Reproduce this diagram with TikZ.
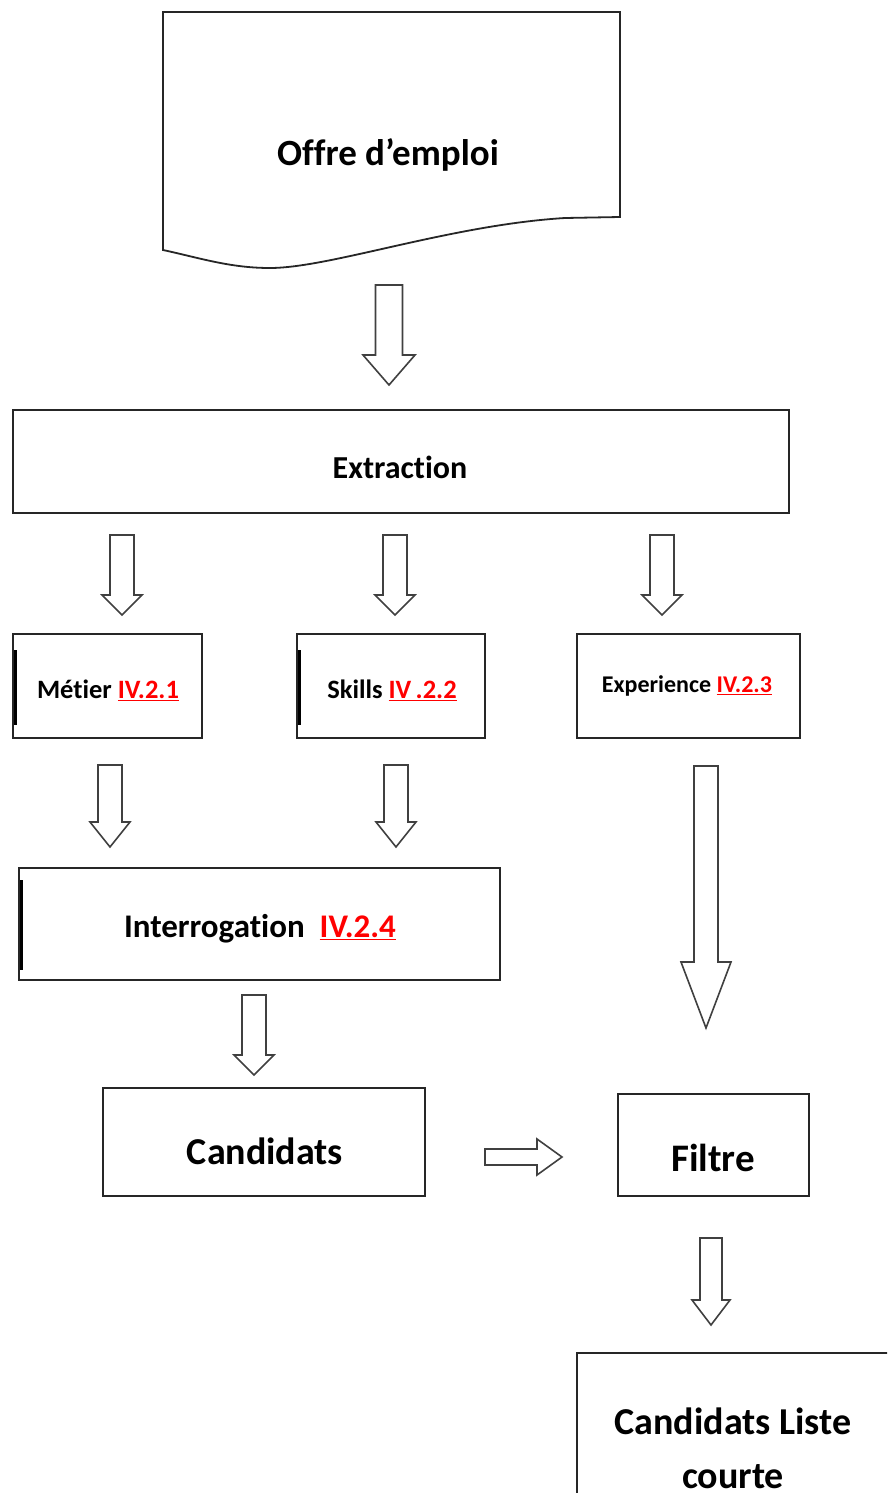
\documentclass[tikz,border=0pt]{standalone}
\usepackage{fontspec}
\setmainfont[Ligatures={NoCommon}]{Carlito}
\begin{document}
\begin{tikzpicture}[x=1pt,y=-1pt,
  box/.style={draw=black!85,line width=1.8pt,fill=white},
  lbl/.style={font=\bfseries\color{black!85!blue}},
  barrow/.style={draw=black!75,line width=1.6pt,fill=white,line join=miter},
  lbar/.style={line width=3pt,black}]
\useasboundingbox (0,0) rectangle (887,1493);
\newcommand\blockdown[6]{%
  \draw[barrow] (#1-#4,#2) -- (#1+#4,#2) -- (#1+#4,#6) -- (#1+#5,#6) -- (#1,#3) -- (#1-#5,#6) -- (#1-#4,#6) -- cycle;}
\newcommand\refu[1]{\textcolor{red}{\underline{#1}}}
\newcommand\fs[1]{\fontsize{#1}{#1}\selectfont}
% document shape
\draw[box] (163,12) -- (620,12) -- (620,217) -- (565,218) .. controls (450,225) and (330,268) .. (270,268) .. controls (230,268) and (200,258) .. (163,250) -- cycle;
\node[lbl,font=\bfseries\fs{37}] (offre) at (388,155) {Offre d'emploi};
% arrow 1
\blockdown{389}{285}{385}{13.5}{26}{355}
% extraction
\draw[box] (13,410) rectangle (789,513);
\node[lbl,font=\bfseries\fs{32}] (extr) at (400,467) {Extraction};
\blockdown{122}{535}{615}{12}{20}{595}
\blockdown{395}{535}{615}{12}{20}{595}
\blockdown{662}{535}{615}{12}{20}{595}
% three boxes
\draw[box] (13,634) rectangle (202,738);
\draw[lbar] (15,650) -- (15,725);
\node[lbl,font=\bfseries\fs{26.5}] (metier) at (108,690) {Métier \refu{IV.2.1}};
\draw[box] (297,634) rectangle (485,738);
\draw[lbar] (299,650) -- (299,725);
\node[lbl,font=\bfseries\fs{26.5}] (skills) at (392,690) {Skills \refu{IV\,.2.2}};
\draw[box] (577,634) rectangle (800,738);
\node[lbl,font=\bfseries\fs{24}] (exp) at (687,686) {Experience \refu{IV.2.3}};
\blockdown{110}{765}{847}{12}{20}{822}
\blockdown{396}{765}{847}{12}{20}{822}
\blockdown{706}{766}{1028}{12}{25}{962}
% interrogation
\draw[box] (19,868) rectangle (500,980);
\draw[lbar] (21,880) -- (21,970);
\node[lbl,font=\bfseries\fs{33}] (interr) at (260,929) {Interrogation\ \ \refu{IV.2.4}};
\blockdown{254}{995}{1075}{12}{20}{1055}
% candidats
\draw[box] (103,1088) rectangle (425,1196);
\node[lbl,font=\bfseries\fs{38}] (cand) at (265,1151) {Candidats};
\draw[barrow] (485,1149) -- (537,1149) -- (537,1139) -- (562,1157) -- (537,1175) -- (537,1165) -- (485,1165) -- cycle;
% filtre
\draw[box] (618,1094) rectangle (809,1196);
\node[lbl,font=\bfseries\fs{39}] (filtre) at (713,1158) {Filtre};
\blockdown{711}{1238}{1325}{11}{19}{1300}
% last box
\begin{scope}
\clip (0,0) rectangle (887,1493);
\draw[box] (577,1353) rectangle (900,1510);
\node[lbl,font=\bfseries\fs{38},align=center] (court) at (733,1448) {Candidats Liste\\[16pt]courte};
\end{scope}
\end{tikzpicture}
\end{document}
